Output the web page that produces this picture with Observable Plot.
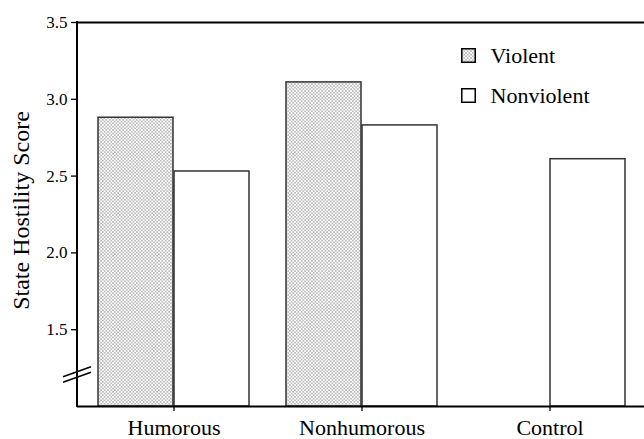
<!DOCTYPE html>
<html>
<head>
<meta charset="utf-8">
<script src="https://cdn.jsdelivr.net/npm/d3@7"></script>
<script src="https://cdn.jsdelivr.net/npm/@observablehq/plot@0.6"></script>
<style>
  html, body { margin: 0; padding: 0; background: #fff; }
</style>
</head>
<body>
<div id="chart"></div>
<script>
// ---- data ----
const groups = ["Humorous", "Nonhumorous", "Control"];
const violent = [2.88, 3.11, null];
const nonviolent = [2.53, 2.83, 2.61];
const yTicks = [1.5, 2.0, 2.5, 3.0, 3.5];
const yDomain = [1.0, 3.5];
const legendLabels = ["Violent", "Nonviolent"];
const yLabel = "State Hostility Score";
const breakAt = 1.205;

const violentRows = groups.map((g, i) => ({group: g, value: violent[i]})).filter(d => d.value != null);
const nonviolentRows = groups.map((g, i) => ({group: g, value: nonviolent[i]})).filter(d => d.value != null);

const W = 644, H = 439;
const mL = 77, mT = 22, mB = 33;
const half = 76;

function decor(index, scales, values, dimensions) {
  const {marginLeft, marginTop, height, marginBottom} = dimensions;
  const g = d3.create("svg:g");
  g.append("line")
    .attr("x1", marginLeft).attr("x2", marginLeft)
    .attr("y1", marginTop - 1).attr("y2", height - marginBottom + 1)
    .attr("stroke", "#000").attr("stroke-width", 2);
  const yb = scales.y(breakAt);
  for (const off of [-2.8, 2.8]) {
    g.append("line")
      .attr("x1", marginLeft - 14).attr("y1", yb + off + 5)
      .attr("x2", marginLeft + 14).attr("y2", yb + off - 5)
      .attr("stroke", "#000").attr("stroke-width", 1.6);
  }
  return g.node();
}

const plot = Plot.plot({
  width: W,
  height: H,
  marginLeft: mL,
  marginRight: 0,
  marginTop: mT,
  marginBottom: mB,
  style: {fontFamily: "'Liberation Serif', 'Times New Roman', serif", background: "#fff", color: "#000"},
  x: {domain: groups, range: [77, 647], paddingInner: 0.196, paddingOuter: 0.106, axis: null},
  y: {domain: yDomain, axis: null},
  marks: [
    Plot.barY(violentRows, {x: "group", y1: yDomain[0], y2: "value", insetRight: half, fill: "url(#stipple)", stroke: "#333", strokeWidth: 1.5}),
    Plot.barY(nonviolentRows, {x: "group", y1: yDomain[0], y2: "value", insetLeft: half, fill: "#fff", stroke: "#333", strokeWidth: 1.5}),
    Plot.ruleY([yDomain[0], yDomain[1]], {stroke: "#000", strokeWidth: 2}),
    decor,
    Plot.axisY({ticks: yTicks, tickFormat: d3.format(".1f"), tickSize: 6, tickPadding: 4, fontSize: 17, stroke: "#000", strokeWidth: 1.3, label: null}),
    Plot.axisX({tickSize: 5, tickPadding: 8, fontSize: 22, stroke: "#000", strokeWidth: 1.3, label: null}),
    Plot.text([yLabel], {frameAnchor: "left", textAnchor: "middle", rotate: -90, dx: -56, dy: -4, fontSize: 24, fill: "#000"}),
    Plot.dot([legendLabels[0]], {frameAnchor: "top-left", dx: 391, dy: 33, symbol: "square", r: 7.6, fill: "url(#stipple)", stroke: "#000", strokeWidth: 1.5}),
    Plot.dot([legendLabels[1]], {frameAnchor: "top-left", dx: 391, dy: 73, symbol: "square", r: 7.6, fill: "#fff", stroke: "#000", strokeWidth: 1.5}),
    Plot.text([legendLabels[0]], {frameAnchor: "top-left", dx: 413, dy: 33, textAnchor: "start", lineAnchor: "middle", fontSize: 22, fill: "#000"}),
    Plot.text([legendLabels[1]], {frameAnchor: "top-left", dx: 413, dy: 73, textAnchor: "start", lineAnchor: "middle", fontSize: 22, fill: "#000"})
  ]
});

// stipple pattern definition
const svg = d3.select(plot);
const defs = svg.insert("defs", ":first-child");
const pat = defs.append("pattern")
  .attr("id", "stipple").attr("patternUnits", "userSpaceOnUse")
  .attr("width", 3.4).attr("height", 3.4);
pat.append("rect").attr("width", 3.4).attr("height", 3.4).attr("fill", "#fff");
pat.append("circle").attr("cx", 0.85).attr("cy", 0.85).attr("r", 0.7).attr("fill", "#666");
pat.append("circle").attr("cx", 2.55).attr("cy", 2.55).attr("r", 0.7).attr("fill", "#666");

document.getElementById("chart").appendChild(plot);
</script>
</body>
</html>
